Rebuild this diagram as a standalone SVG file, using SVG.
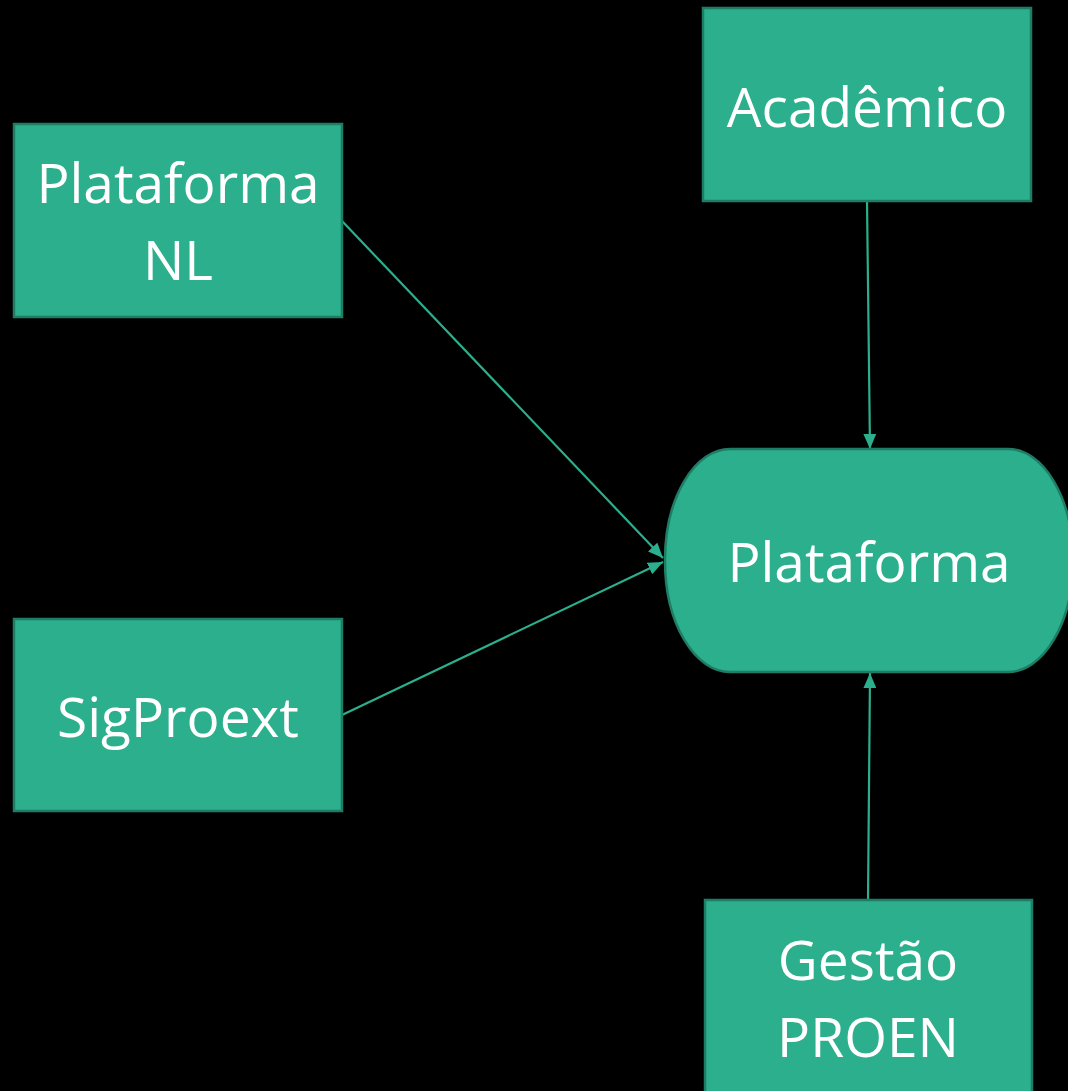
<svg xmlns="http://www.w3.org/2000/svg" width="1068" height="1091" viewBox="0 0 1068 1091">
<defs>
<style>
.node{fill:#2baf8c;stroke:#1f7d65;stroke-width:2.5}
.lbl{fill:#ffffff;font-family:"Open Sans","Noto Sans",sans-serif;font-size:55px;text-anchor:middle}
.conn{stroke:#2baf8c;stroke-width:2.2;fill:none}
</style>
<marker id="arr" viewBox="0 0 14 12" refX="14" refY="6" markerWidth="15" markerHeight="13" markerUnits="userSpaceOnUse" orient="auto">
<path d="M0,0 L14,6 L0,12 Z" fill="#2baf8c"/>
</marker>
</defs>
<rect width="1068" height="1091" fill="#000000"/>
<g id="connectors">
<line class="conn" x1="342" y1="221" x2="663" y2="558" marker-end="url(#arr)"/>
<line class="conn" x1="342" y1="715" x2="663" y2="562" marker-end="url(#arr)"/>
<line class="conn" x1="867" y1="201" x2="870" y2="449" marker-end="url(#arr)"/>
<line class="conn" x1="868" y1="900" x2="870" y2="673" marker-end="url(#arr)"/>
</g>
<g id="node-plataforma-nl">
<rect class="node" x="14" y="124" width="328" height="193"/>
<text class="lbl" x="178" y="203">Plataforma</text>
<text class="lbl" x="178" y="280">NL</text>
</g>
<g id="node-academico">
<rect class="node" x="703" y="8" width="328" height="193"/>
<text class="lbl" x="867" y="127">Acadêmico</text>
</g>
<g id="node-sigproext">
<rect class="node" x="14" y="619" width="328" height="192"/>
<text class="lbl" x="178" y="737">SigProext</text>
</g>
<g id="node-plataforma">
<rect class="node" x="665" y="449" width="408" height="223" rx="65" ry="111"/>
<text class="lbl" x="869" y="582">Plataforma</text>
</g>
<g id="node-gestao-proen">
<rect class="node" x="705" y="900" width="327" height="200"/>
<text class="lbl" x="868" y="980">Gestão</text>
<text class="lbl" x="868" y="1057">PROEN</text>
</g>
</svg>
